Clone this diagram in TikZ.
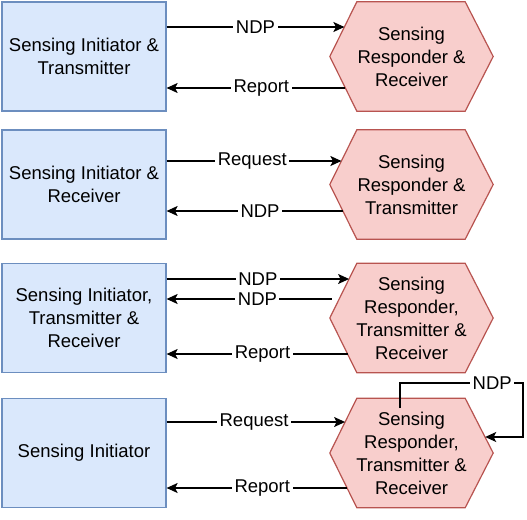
\documentclass[tikz,border=0pt]{standalone}
\usepackage{fontspec}
\setmainfont{Liberation Sans}
\usetikzlibrary{arrows.meta,backgrounds}
\definecolor{bfill}{HTML}{DAE8FC}
\definecolor{bdraw}{HTML}{6C8EBF}
\definecolor{rfill}{HTML}{F8CECC}
\definecolor{rdraw}{HTML}{B85450}
\newcommand\drawhexbg[1]{%
  \begin{scope}[on background layer]
    \path[hexline] (#1.west) -- ([xshift=27pt]#1.north west) -- ([xshift=-28pt]#1.north east)
      -- (#1.east) -- ([xshift=-28pt]#1.south east) -- ([xshift=27pt]#1.south west) -- cycle;
  \end{scope}}
\begin{document}
\begin{tikzpicture}[x=1pt,y=1pt,
  txt/.style={font=\fontsize{18.5}{23}\selectfont, align=center, text=black},
  initbox/.style={txt, draw=bdraw, fill=bfill, line width=1.2pt, minimum width=164pt, minimum height=109pt, inner sep=0pt},
  resbox/.style={txt, minimum width=163pt, minimum height=109pt, inner sep=0pt},
  hexline/.style={draw=rdraw, fill=rfill, line width=1.2pt},
  arr/.style={line width=1.2pt, -{Stealth[length=11pt,width=10pt,inset=2.5pt]}},
  lbl/.style={txt, fill=white, inner sep=2.5pt}
]
\useasboundingbox (0,0) rectangle (527,-519);

% Row 1
\node[initbox] (i1) at (84,-56.5) {Sensing Initiator \&\\Transmitter};
\node[resbox] (r1) at (411.5,-56.5) {Sensing\\Responder \&\\Receiver};
\drawhexbg{r1}
\draw[arr] ([yshift=29.5]i1.east) -- node[lbl]{NDP} ([shift={(14.6,29.5)}]r1.west);
\draw[arr] ([shift={(15.6,-31.5)}]r1.west) -- node[lbl,pos=0.47]{Report} ([yshift=-31.5]i1.east);

% Row 2
\node[initbox] (i2) at (84,-184.5) {Sensing Initiator \&\\Receiver};
\node[resbox] (r2) at (411.5,-184.5) {Sensing\\Responder \&\\Transmitter};
\drawhexbg{r2}
\draw[arr] ([yshift=23.5]i2.east) -- node[lbl,pos=0.49]{Request} ([shift={(11.6,23.5)}]r2.west);
\draw[arr] ([shift={(13.1,-26.5)}]r2.west) -- node[lbl,pos=0.47]{NDP} ([yshift=-26.5]i2.east);

% Row 3
\node[initbox] (i3) at (84,-318) {Sensing Initiator,\\Transmitter \&\\Receiver};
\node[resbox] (r3) at (411.5,-318) {Sensing\\Responder,\\Transmitter \&\\Receiver};
\drawhexbg{r3}
\draw[arr] ([yshift=39]i3.east) -- node[lbl]{NDP} ([shift={(19.3,39)}]r3.west);
\draw[arr] ([shift={(2,19)}]r3.west) -- node[lbl,pos=0.45]{NDP} ([yshift=19]i3.east);
\draw[arr] ([shift={(17.8,-36)}]r3.west) -- node[lbl,pos=0.47]{Report} ([yshift=-36]i3.east);

% Row 4
\node[initbox] (i4) at (84,-453) {Sensing Initiator};
\node[resbox] (r4) at (411.5,-453) {Sensing\\Responder,\\Transmitter \&\\Receiver};
\drawhexbg{r4}
\draw[arr] ([yshift=31]i4.east) -- node[lbl,pos=0.49]{Request} ([shift={(15.3,31)}]r4.west);
\draw[arr] ([shift={(17.3,-35)}]r4.west) -- node[lbl,pos=0.47]{Report} ([yshift=-35]i4.east);
\draw[arr] ([shift={(-11.5,45)}]r4.center) -- ++(0,25) -- node[lbl,pos=0.75]{NDP} ++(123,0)
  -- ++(0,-54) -- ([shift={(-8,16)}]r4.east);
\end{tikzpicture}
\end{document}
